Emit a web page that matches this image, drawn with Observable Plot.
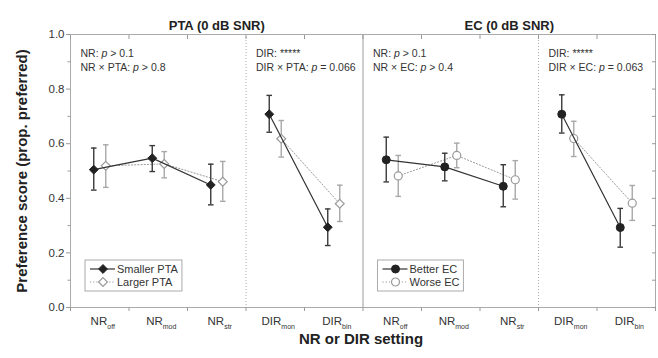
<!DOCTYPE html>
<html><head><meta charset="utf-8">
<script src="https://cdn.jsdelivr.net/npm/d3@7"></script>
<script src="https://cdn.jsdelivr.net/npm/@observablehq/plot@0.6"></script>
<style>
body{margin:0;background:#fff;font-family:"Liberation Sans",Arial,sans-serif;}
</style></head><body><div id="chart"></div>
<script>
// ---- data ----
const categories = ["NR_{off}","NR_{mod}","NR_{str}","DIR_{mon}","DIR_{bin}"];
const groupOf = ["NR","NR","NR","DIR","DIR"];
const panels = ["PTA (0 dB SNR)","EC (0 dB SNR)"];
const seriesNames = [["Smaller PTA","Larger PTA"],["Better EC","Worse EC"]];
const yTicks = [0,0.2,0.4,0.6,0.8,1.0];
const yMinorTicks = [0.1,0.3,0.5,0.7,0.9];
const yRightTicks = [0,0.1,0.2,0.3,0.4,0.5,0.6,0.7,0.8,0.9,1.0];

const ptaSmaller   = [0.505,0.547,0.449,0.708,0.294];
const ptaSmallerLo = [0.430,0.498,0.376,0.642,0.227];
const ptaSmallerHi = [0.584,0.593,0.525,0.777,0.361];
const ptaLarger    = [0.519,0.526,0.461,0.618,0.380];
const ptaLargerLo  = [0.440,0.475,0.389,0.551,0.315];
const ptaLargerHi  = [0.596,0.571,0.535,0.685,0.448];
const ecBetter     = [0.541,0.515,0.444,0.708,0.293];
const ecBetterLo   = [0.460,0.464,0.369,0.639,0.221];
const ecBetterHi   = [0.624,0.565,0.523,0.779,0.363];
const ecWorse      = [0.482,0.557,0.468,0.619,0.382];
const ecWorseLo    = [0.407,0.512,0.397,0.553,0.319];
const ecWorseHi    = [0.557,0.602,0.538,0.682,0.447];

const annotations = [
  ["NR: [p] > 0.1", "NR × PTA: [p] > 0.8", "DIR: *****", "DIR × PTA: [p] = 0.066"],
  ["NR: [p] > 0.1", "NR × EC: [p] > 0.4", "DIR: *****", "DIR × EC: [p] = 0.063"]
];
const xTitle = "NR or DIR setting";
const yTitle = "Preference score (prop. preferred)";

// ---- build table ----
const seriesData = [
  [[ptaSmaller,ptaSmallerLo,ptaSmallerHi],[ptaLarger,ptaLargerLo,ptaLargerHi]],
  [[ecBetter,ecBetterLo,ecBetterHi],[ecWorse,ecWorseLo,ecWorseHi]]
];
const rows = [];
seriesData.forEach((panel,p)=>panel.forEach(([v,lo,hi],s)=>v.forEach((val,i)=>{
  rows.push({panel:p, series:s, cat:i, pos:p*categories.length+i+0.5, y:val, lo:lo[i], hi:hi[i],
             z:`${p}-${s}-${groupOf[i]}`});
})));
const nCat = categories.length*panels.length;
const centers = d3.range(nCat).map(i=>i+0.5);
const bounds = d3.range(nCat+1);
const dirStart = groupOf.indexOf("DIR");

const capSymbol = {draw(ctx){ ctx.moveTo(-2.8,0); ctx.lineTo(2.8,0); }};
const DARK = "#222", DARKBAR = "#3a3a3a", LIGHT = "#9a9a9a", LIGHTBAR = "#a8a8a8";
const OFF = 6;

function seriesMarks(s){
  const d = rows.filter(r=>r.series===s);
  const dx = s===0 ? -OFF : OFF;
  const col = s===0 ? DARK : LIGHT;
  const bar = s===0 ? DARKBAR : LIGHTBAR;
  return [
    Plot.line(d, {x:"pos", y:"y", z:"z", dx, stroke: s===0?"#333":LIGHT, strokeWidth: s===0?1.2:1,
                  strokeDasharray: s===0?null:"1.2,2"}),
    Plot.ruleX(d, {x:"pos", y1:"lo", y2:"hi", dx, stroke:bar, strokeWidth:1.4}),
    Plot.dot(d, {x:"pos", y:"hi", dx, symbol:capSymbol, stroke:bar, strokeWidth:1.4, fill:"none"}),
    Plot.dot(d, {x:"pos", y:"lo", dx, symbol:capSymbol, stroke:bar, strokeWidth:1.4, fill:"none"}),
    Plot.dot(d.filter(r=>r.panel===0), {x:"pos", y:"y", dx, symbol:"diamond2", r:4,
             fill: s===0?DARK:"white", stroke: col, strokeWidth: s===0?1:1.2}),
    Plot.dot(d.filter(r=>r.panel===1), {x:"pos", y:"y", dx, symbol:"circle", r:4,
             fill: s===0?DARK:"white", stroke: col, strokeWidth: s===0?1:1.2})
  ];
}

const annRows = [];
annotations.forEach((a,p)=>{
  annRows.push({x:p*categories.length, t:a[0], line:0});
  annRows.push({x:p*categories.length, t:a[1], line:1});
  annRows.push({x:p*categories.length+dirStart, t:a[2], line:0});
  annRows.push({x:p*categories.length+dirStart, t:a[3], line:1});
});

const plot = Plot.plot({
  width:658, height:358,
  marginLeft:70, marginRight:3, marginTop:34, marginBottom:51,
  style:{fontFamily:'"Liberation Sans",Arial,sans-serif', background:"white"},
  x:{domain:[0,nCat], label:null},
  y:{domain:[0,1], label:null},
  marks:[
    Plot.ruleX(bounds.filter(b=>b%categories.length===dirStart), {stroke:"#aaa", strokeDasharray:"1,2"}),
    Plot.ruleX([categories.length], {stroke:"#9a9a9a"}),
    Plot.frame({stroke:"#aaa"}),
    // axes
    Plot.axisY({ticks:yTicks, tickSize:4, tickFormat:()=>"", color:"#999"}),
    Plot.axisY({ticks:yMinorTicks, tickSize:2.5, tickFormat:()=>"", color:"#999"}),
    Plot.axisY({ticks:yTicks, tickSize:0, tickPadding:6, tickFormat:d3.format(".1f"), color:"#333", fontSize:11.5}),
    Plot.axisY({anchor:"right", ticks:yRightTicks, tickSize:-4, tickFormat:()=>"", color:"#999"}),
    Plot.axisX({ticks:bounds, tickSize:4, tickFormat:()=>"", color:"#999"}),
    Plot.axisX({anchor:"top", ticks:bounds, tickSize:-4, tickFormat:()=>"", color:"#999"}),
    Plot.axisX({ticks:centers, tickSize:0, tickPadding:9, dx:3,
                tickFormat:(d)=>categories[Math.floor(d)%categories.length], color:"#333", fontSize:11.5}),
    // data
    ...seriesMarks(1),
    ...seriesMarks(0),
    // annotations
    Plot.text(annRows.filter(r=>r.line===0), {x:"x", text:"t", frameAnchor:"top", dy:15, dx:10, textAnchor:"start", fontSize:10.5, fill:"#333"}),
    Plot.text(annRows.filter(r=>r.line===1), {x:"x", text:"t", frameAnchor:"top", dy:29, dx:10, textAnchor:"start", fontSize:10.5, fill:"#333"}),
    // titles
    Plot.text(panels, {x:(d,i)=>i*categories.length+categories.length/2, text:d=>d, frameAnchor:"top", dy:-14, fontSize:13, fontWeight:"bold", fill:"#222"}),
    Plot.text([xTitle], {frameAnchor:"bottom", dy:36, dx:-2, fontSize:15, fontWeight:"bold", fill:"#222"}),
    Plot.text([yTitle], {frameAnchor:"left", textAnchor:"middle", dx:-48, rotate:-90, fontSize:15, fontWeight:"bold", fill:"#222"})
  ]
});
document.getElementById("chart").appendChild(plot);

// rich text: subscripts and italic p
const NS = "http://www.w3.org/2000/svg";
d3.select(plot).selectAll("text").each(function(){
  const s = this.textContent;
  if(!/_\{|\[p\]/.test(s)) return;
  const parts = s.split(/(_\{[^}]*\}|\[p\])/).filter(x=>x!=="");
  while(this.firstChild) this.removeChild(this.firstChild);
  let shifted=false;
  for(const part of parts){
    const t = document.createElementNS(NS,"tspan");
    if(part==="[p]"){ t.textContent="p"; t.setAttribute("font-style","italic"); }
    else if(part.startsWith("_{")){ t.textContent=part.slice(2,-1); t.setAttribute("font-size","7"); t.setAttribute("dy","4"); shifted=true; }
    else { t.textContent=part; if(shifted){ t.setAttribute("dy","-4"); shifted=false; } }
    this.appendChild(t);
  }
});

// legends
const xs = plot.scale("x"), ys = plot.scale("y");
const svg = d3.select(plot.tagName.toLowerCase()==="svg" ? plot : plot.querySelector("svg"));
panels.forEach((_,p)=>{
  const left = xs.apply(p*categories.length) + 15;
  const top = ys.apply(0) - 47;
  const g = svg.append("g").attr("transform",`translate(${left},${top})`).attr("text-anchor","start");
  const box = g.append("rect").attr("x",0).attr("y",0).attr("height",31).attr("fill","white").attr("stroke","#aaa");
  let maxW = 0;
  [0,1].forEach(s=>{
    const yy = 9 + s*13;
    g.append("line").attr("x1",5).attr("x2",30).attr("y1",yy).attr("y2",yy)
      .attr("stroke", s===0?"#333":LIGHT).attr("stroke-width", s===0?1.2:1)
      .attr("stroke-dasharray", s===0?null:"1.2,2");
    const sym = p===0 ? d3.symbol(d3.symbolDiamond2, Math.PI*16) : d3.symbol(d3.symbolCircle, Math.PI*16);
    g.append("path").attr("d", sym()).attr("transform",`translate(18,${yy})`)
      .attr("fill", s===0?DARK:"white").attr("stroke", s===0?DARK:LIGHT).attr("stroke-width", s===0?1:1.2);
    const t = g.append("text").attr("x",32).attr("y",yy).attr("dy","0.35em").attr("text-anchor","start")
      .attr("font-size",11).attr("fill","#333").text(seriesNames[p][s]);
    maxW = Math.max(maxW, t.node().getComputedTextLength());
  });
  box.attr("width", 32 + maxW + 4);
});
</script></body></html>
